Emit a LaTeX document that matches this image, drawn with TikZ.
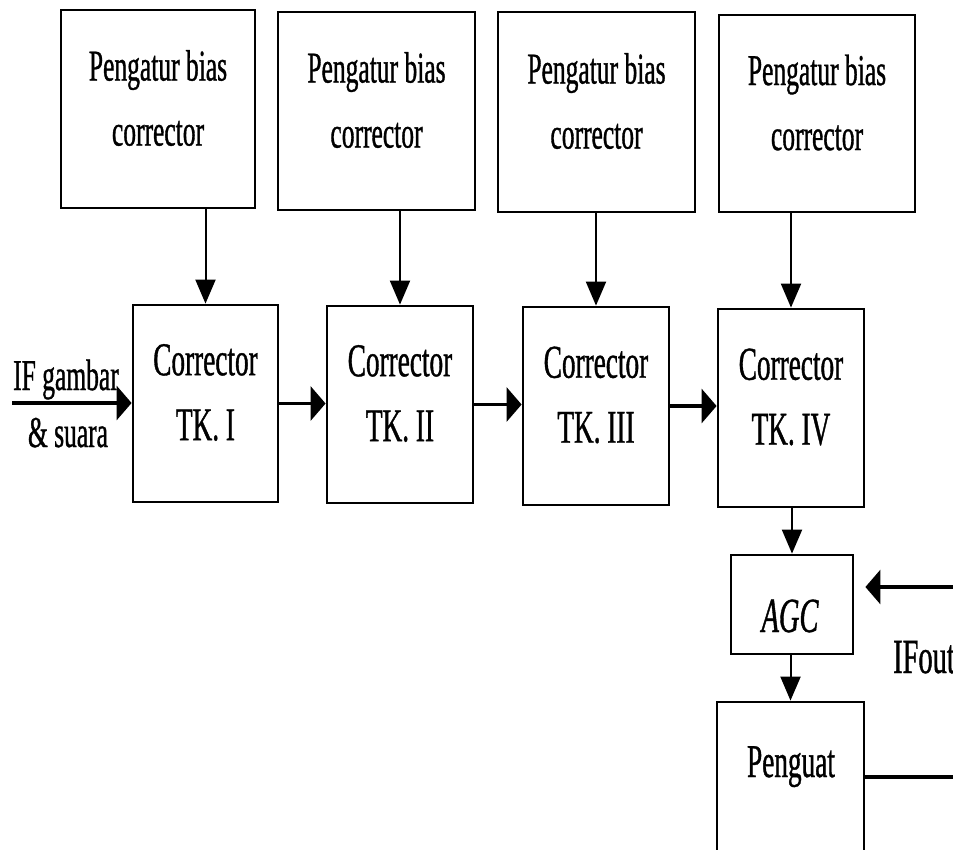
\documentclass[tikz,border=0pt]{standalone}
\usepackage{fontspec}
\setmainfont{Liberation Serif}[FakeStretch=0.58, FakeBold=0.8]
\usetikzlibrary{arrows.meta}
\newcommand\fsz[2]{\fontsize{#1}{#2}\selectfont}
\begin{document}
\begin{tikzpicture}[x=1pt,y=-1pt,
  blok/.style={draw, line width=2.8pt, inner sep=0pt},
  lbl/.style={inner sep=0pt, align=center},
  vconn/.style={line width=2pt, -{Triangle[length=24pt,width=20pt]}},
  hconn/.style={line width=3.2pt, -{Triangle[length=15pt,width=34pt]}},
  bias/.style={lbl, font=\fsz{44}{65}},
  corr/.style={lbl, font=\fsz{47}{65}}]
\useasboundingbox (0,0) rectangle (953,849);
\clip (0,0) rectangle (953,849);

% bias-regulator blocks (top row)
\node[blok, minimum width=194pt, minimum height=198pt] (p1) at (158,109) {};
\node[blok, minimum width=197pt, minimum height=198pt] (p2) at (376.5,111) {};
\node[blok, minimum width=197pt, minimum height=200pt] (p3) at (596.5,112) {};
\node[blok, minimum width=196pt, minimum height=197pt] (p4) at (817,113.5) {};
\node[bias] (tp1) at (158,98) {Pengatur bias\\corrector};
\node[bias] (tp2) at (376.5,100) {Pengatur bias\\corrector};
\node[bias] (tp3) at (596.5,101) {Pengatur bias\\corrector};
\node[bias] (tp4) at (817,102.5) {Pengatur bias\\corrector};

% corrector stages
\node[blok, minimum width=145pt, minimum height=197pt] (c1) at (205.5,403.5) {};
\node[blok, minimum width=146pt, minimum height=197pt] (c2) at (400,404.5) {};
\node[blok, minimum width=146pt, minimum height=198pt] (c3) at (596,406) {};
\node[blok, minimum width=146pt, minimum height=198pt] (c4) at (791,408) {};
\node[corr] (tc1) at (205.5,392.5) {Corrector\\TK. I};
\node[corr] (tc2) at (400,393.5) {Corrector\\TK. II};
\node[corr] (tc3) at (596,395) {Corrector\\TK. III};
\node[corr] (tc4) at (791,397) {Corrector\\TK. IV};

% AGC and amplifier
\node[blok, minimum width=122pt, minimum height=99pt] (agc) at (792,604.5) {};
\node[lbl, anchor=base, font=\fsz{49}{60}\itshape] (tagc) at (790,632) {AGC};
\node[blok, minimum width=147pt, minimum height=158pt] (pg) at (790.5,781) {};
\node[lbl, anchor=base, font=\fsz{47}{60}] (tpg) at (791,777) {Penguat};

% signal labels
\node[lbl, anchor=base, font=\fsz{44}{60}] (lin1) at (66,390) {IF gambar};
\node[lbl, anchor=base, font=\fsz{44}{60}] (lin2) at (68,447) {\& suara};
\node[lbl, anchor=base west, font=\fsz{49}{60}] (lout) at (893,673) {IFout};

% free ends
\coordinate (inp) at (12,403);
\coordinate (ifin) at (953,587);
\coordinate (ifo) at (953,777);

% bias connections
\foreach \i in {1,2,3,4}
  \draw[vconn] (c\i.north |- p\i.south) -- (c\i.north);

% signal chain
\draw[hconn] (inp) -- (inp -| c1.west);
\draw[hconn] (c1.east) -- (c1.east -| c2.west);
\draw[hconn] (c2.east) -- (c2.east -| c3.west);
\draw[hconn] (c3.east) -- (c3.east -| c4.west);
\draw[vconn] (agc.north |- c4.south) -- (agc.north);
\draw[vconn] (pg.north |- agc.south) -- (pg.north);
\draw[hconn] (ifin) -- ([xshift=11pt]ifin -| agc.east);
\draw[line width=3.2pt] (ifo -| pg.east) -- (ifo);
\end{tikzpicture}
\end{document}
